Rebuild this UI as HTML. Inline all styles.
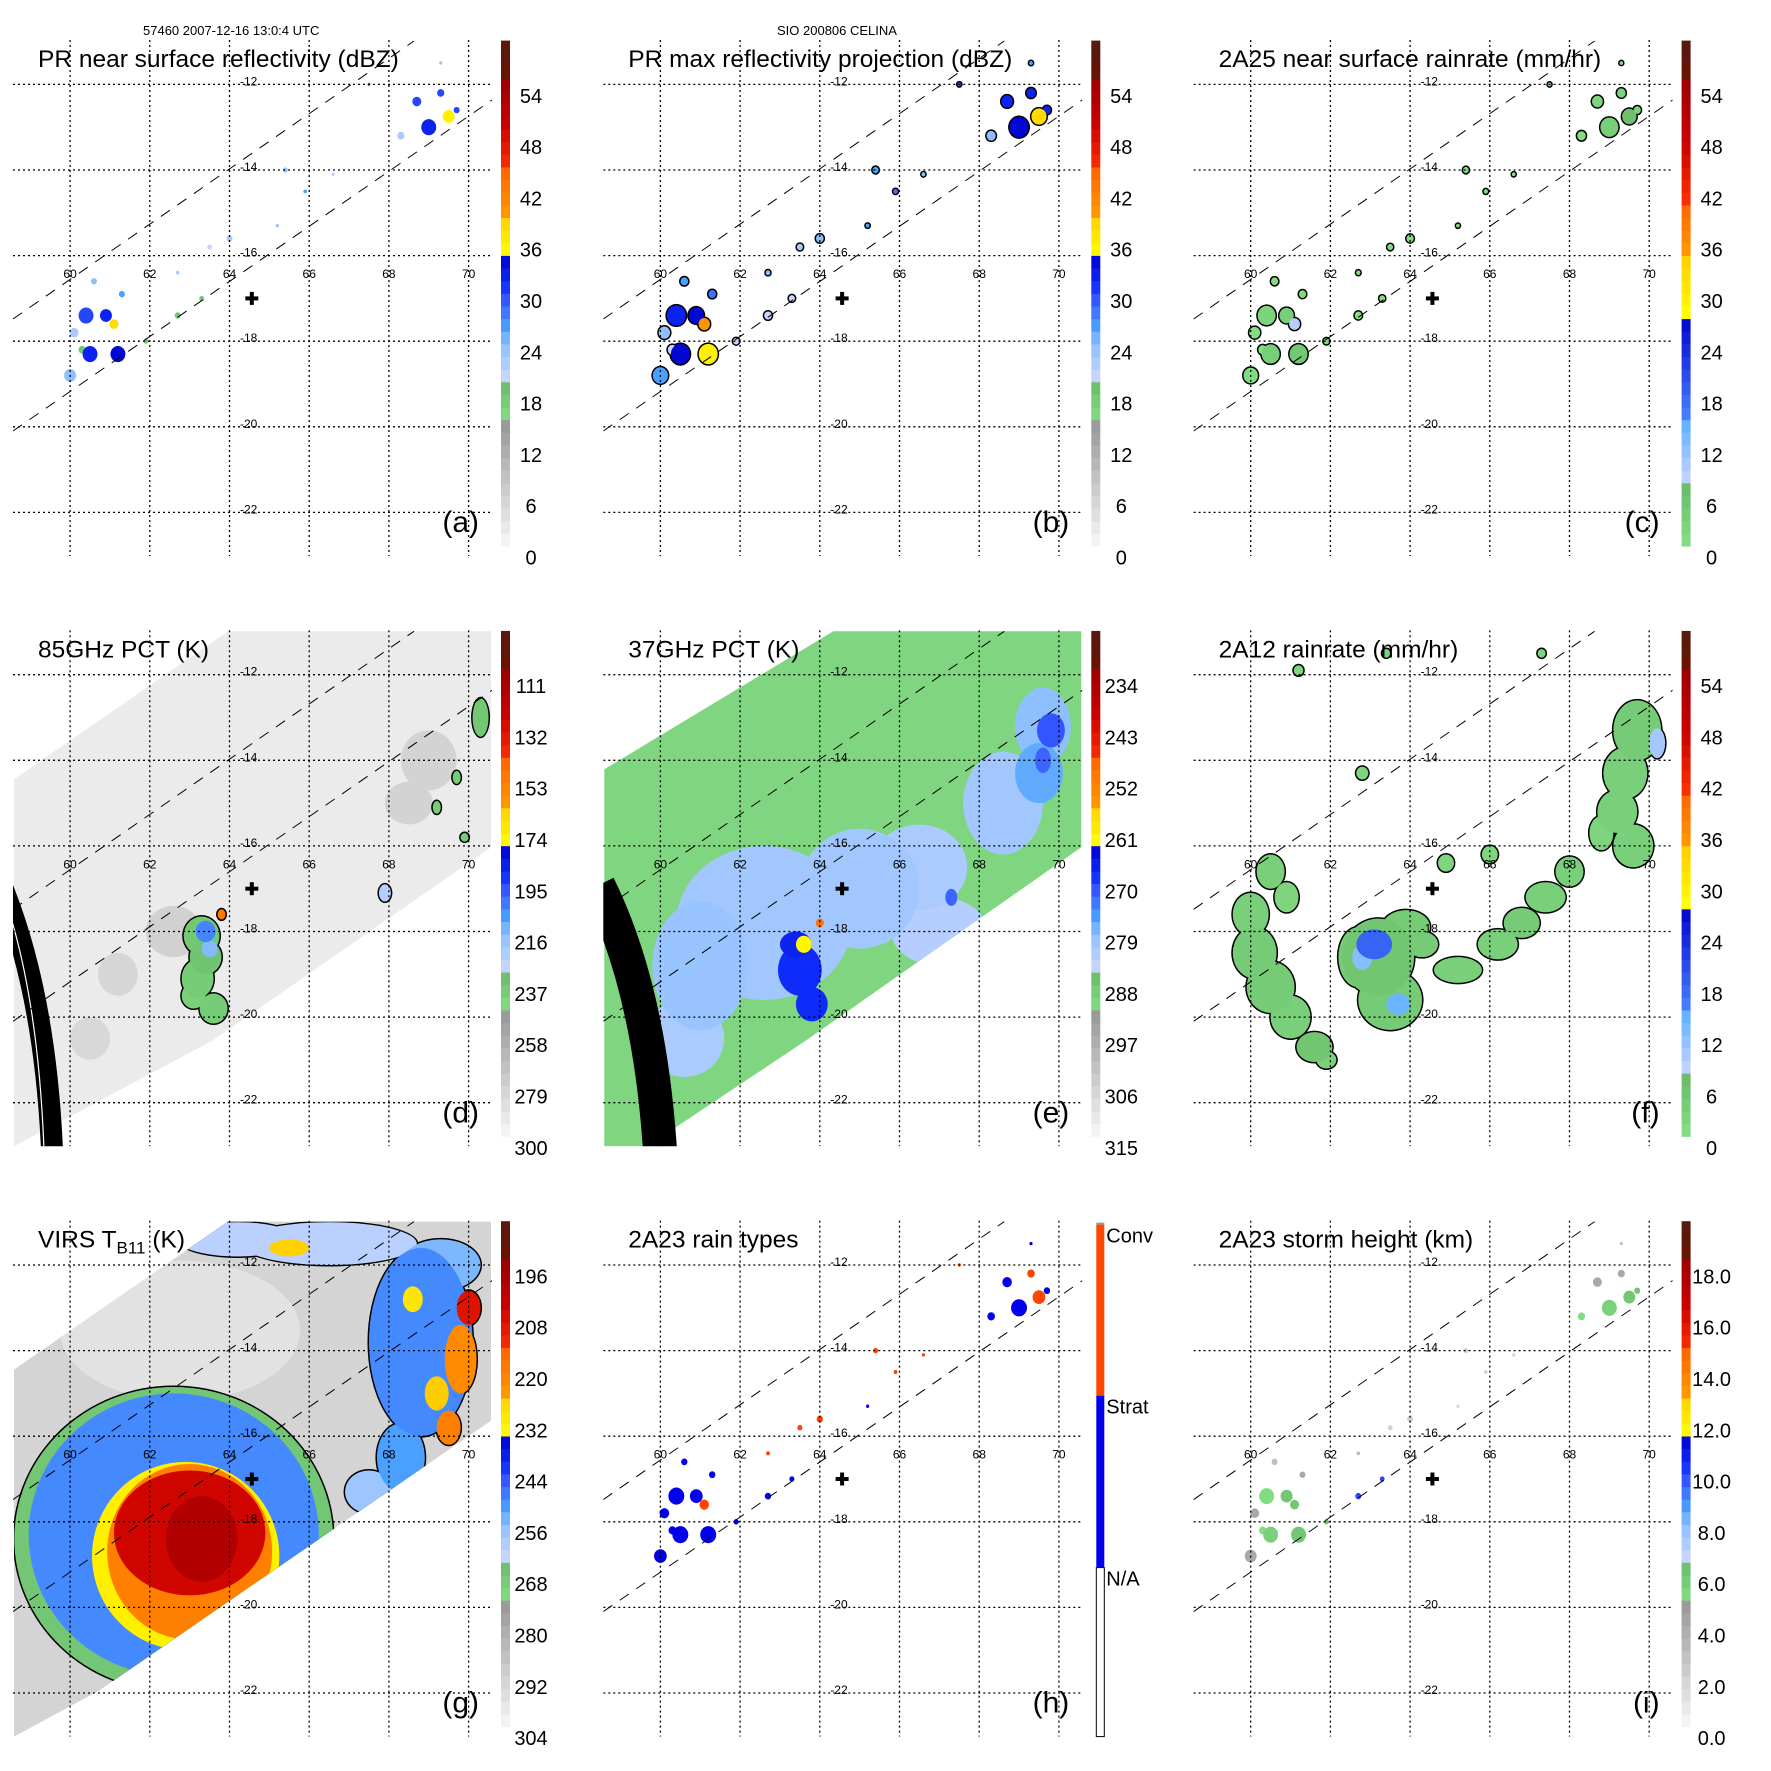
<!DOCTYPE html>
<html><head><meta charset="utf-8"><style>
html,body{margin:0;padding:0;background:#fff;}
svg{display:block;font-family:"Liberation Sans",sans-serif;}
</style></head><body>
<svg id="fig" width="1771" height="1771" viewBox="0 0 1771 1771" xmlns="http://www.w3.org/2000/svg">
<rect width="1771" height="1771" fill="#fff"/>
<text x="143" y="35" font-size="13">57460 2007-12-16 13:0:4 UTC</text>
<text x="777" y="35" font-size="13">SIO 200806 CELINA</text>
</svg>
<script>
// ---- data ----
const gridLons=[60,62,64,66,68,70];
const gridLats=[-12,-14,-16,-18,-20,-22];
const stormLon=64.56, stormLat=-17.0;
// PR cells
const prLon=[60.4,60.1,60.9,60.5,61.2,61.1,60.0,60.3,61.3,60.6,61.9,62.7,63.3,62.7,63.5,64.0,65.4,65.9,66.6,65.2,69.0,69.5,68.7,69.3,69.7,68.3,69.3,67.5];
const prLat=[-17.4,-17.8,-17.4,-18.3,-18.3,-17.6,-18.8,-18.2,-16.9,-16.6,-18.0,-17.4,-17.0,-16.4,-15.8,-15.6,-14.0,-14.5,-14.1,-15.3,-13.0,-12.75,-12.4,-12.2,-12.6,-13.2,-11.5,-12.0];
const prSize=[0.25,0.15,0.2,0.25,0.25,0.15,0.2,0.12,0.1,0.1,0.08,0.1,0.08,0.06,0.08,0.1,0.08,0.06,0.05,0.05,0.25,0.2,0.15,0.12,0.1,0.12,0.05,0.05];
const prDbz=[30,22,32,32,34,38,24,18,26,24,18,18,18,22,20,22,24,26,22,24,32,36,30,30,30,22,24,28];
const prConv=[0,0,0,0,0,1,0,0,0,0,0,0,0,1,1,1,1,1,1,0,0,1,0,1,0,0,0,1];
const prHeight=[5,4,6,5.5,6,6,4,5,4,3,6,10,10,3,2,2,2,2,2,2,5.5,6,4,4,6,5,3,3];
// 85 GHz PCT
const dLon=[62.6,69.0,61.2,60.5,68.5,63.3,63.4,63.2,63.6,63.1,63.4,63.5,63.8,70.3,69.7,69.2,67.9,69.9];
const dLat=[-18.0,-14.0,-19.0,-20.5,-15.0,-18.1,-18.6,-19.1,-19.8,-19.5,-18.0,-18.4,-17.6,-13.0,-14.4,-15.1,-17.1,-15.8];
const dRx=[0.7,0.7,0.5,0.5,0.6,0.45,0.4,0.4,0.35,0.3,0.25,0.2,0.1,0.2,0.1,0.1,0.15,0.1];
const dRy=[0.6,0.7,0.5,0.5,0.5,0.45,0.4,0.45,0.35,0.3,0.25,0.2,0.12,0.45,0.15,0.15,0.2,0.1];
const dVal=[279,280,282,283,280,238,236,240,240,242,205,215,150,238,240,240,225,240];
// 37 GHz PCT
const eLon=[62.6,65.0,66.5,61.0,68.6,69.6,69.5,60.6,67.0,63.5,63.8,63.4,69.8,67.3,69.6,63.6,64.0];
const eLat=[-17.8,-17.0,-16.5,-18.8,-15.0,-13.2,-14.3,-20.5,-18.0,-18.9,-19.7,-18.3,-13.3,-17.2,-14.0,-18.3,-17.8];
const eRx=[2.2,1.5,1.2,1.2,1.0,0.7,0.6,1.0,1.2,0.55,0.4,0.4,0.35,0.15,0.2,0.2,0.1];
const eRy=[1.8,1.4,1.0,1.5,1.2,0.9,0.7,0.9,0.8,0.6,0.4,0.3,0.4,0.2,0.3,0.2,0.1];
const eVal=[281,281,282,280,281,279,277,282,283,268,268,267,271,272,272,262,250];
// 2A12 rain
const fLon=[60.5,60.0,60.1,60.5,61.0,61.6,61.9,60.9,63.2,62.7,63.5,63.9,63.1,64.3,65.2,66.2,66.8,67.4,68.0,69.7,69.4,69.2,69.6,68.8,70.2,62.8,61.2,63.4,67.3,64.9,66.0,63.7,62.8];
const fLat=[-16.6,-17.6,-18.5,-19.3,-20.0,-20.7,-21.0,-17.2,-18.6,-18.6,-19.6,-17.9,-18.3,-18.3,-18.9,-18.3,-17.8,-17.2,-16.6,-13.3,-14.3,-15.2,-16.0,-15.7,-13.6,-14.3,-11.9,-11.5,-11.5,-16.4,-16.2,-19.7,-18.6];
const fRx=[0.35,0.45,0.55,0.6,0.5,0.45,0.25,0.3,0.9,0.5,0.8,0.6,0.45,0.4,0.6,0.5,0.45,0.5,0.35,0.6,0.55,0.5,0.5,0.3,0.2,0.15,0.12,0.1,0.1,0.2,0.2,0.3,0.25];
const fRy=[0.4,0.5,0.6,0.6,0.5,0.35,0.2,0.35,0.9,0.7,0.7,0.4,0.35,0.3,0.3,0.35,0.35,0.35,0.35,0.7,0.6,0.5,0.5,0.4,0.35,0.15,0.12,0.1,0.1,0.2,0.2,0.25,0.3];
const fVal=[3,3,4,4,3,5,3,2,5,4,4,4,18,4,3,3,4,3,3,4,3,3,3,2,10,2,2,2,2,2,2,14,12];
// VIRS TB11
const gLon=[62.6,62.6,62.9,63.0,63.0,63.3,68.8,69.3,66.5,64.2,69.8,70.0,69.5,68.3,67.5,65.5,69.2,68.6];
const gLat=[-18.4,-18.3,-18.8,-18.7,-18.26,-18.4,-13.8,-12.0,-11.5,-11.4,-14.2,-13.0,-15.8,-16.5,-17.3,-11.6,-15.0,-12.8];
const gRx=[4.0,3.64,2.35,2.07,1.9,0.9,1.3,1.0,2.2,1.5,0.4,0.3,0.3,0.6,0.6,0.5,0.3,0.25];
const gRy=[3.55,3.3,2.2,2.05,1.46,1.0,2.2,0.6,0.5,0.4,0.8,0.4,0.4,0.8,0.5,0.2,0.4,0.3];
const gVal=[268,250,232,220,205,198,250,255,262,262,222,208,220,252,258,226,225,230];
// colorbar tick labels
const ticksA=['0','6','12','18','24','30','36','42','48','54'];
const ticksD=['300','279','258','237','216','195','174','153','132','111'];
const ticksE=['315','306','297','288','279','270','261','252','243','234'];
const ticksG=['304','292','280','268','256','244','232','220','208','196'];
const ticksI=['0.0','2.0','4.0','6.0','8.0','10.0','12.0','14.0','16.0','18.0'];
const ticksH=['Conv','Strat','N/A'];

// ---- helpers ----
const NS='http://www.w3.org/2000/svg';
const svg=document.getElementById('fig');
const X=lon=>70.1+(lon-60)*39.85;
const Y=lat=>84.4+(-12-lat)*42.8;
function mk(tag,attrs,parent){const e=document.createElementNS(NS,tag);for(const k in attrs)e.setAttribute(k,attrs[k]);parent.appendChild(e);return e;}
function hx(c){return [parseInt(c.substr(1,2),16),parseInt(c.substr(3,2),16),parseInt(c.substr(5,2),16)];}
function lerpStops(stops,v){
  if(v<=stops[0][0])return stops[0][1];
  for(let i=0;i<stops.length-1;i++){const a=stops[i],b=stops[i+1];
    if(v>=a[0]&&v<=b[0]){if(b[0]===a[0])return b[1];const t=(v-a[0])/(b[0]-a[0]);const A=hx(a[1]),B=hx(b[1]);
      return 'rgb('+A.map((x,j)=>Math.round(x+(B[j]-x)*t)).join(',')+')';}}
  return stops[stops.length-1][1];
}
const stopsA=[[0,'#f8f8f8'],[14.5,'#999999'],[14.5,'#85e085'],[19.5,'#6bbb6b'],[19.5,'#d0d8ff'],[24,'#8ec0ff'],[26,'#4aa0ff'],[29,'#3a5cff'],[31,'#1030ff'],[34.5,'#0000cc'],[34.5,'#ffff00'],[39.5,'#ffcc00'],[39.5,'#ff9900'],[44.5,'#ff6600'],[44.5,'#ff3300'],[50,'#cc0000'],[55,'#a00000'],[55,'#701000'],[60,'#551a12']];
const stopsC=[[0,'#85e085'],[7,'#6bbb6b'],[7,'#d0d8ff'],[15.2,'#5aaeff'],[15.2,'#4a80ff'],[27.4,'#0000cc'],[27.4,'#ffff00'],[34.6,'#ffcc00'],[34.6,'#ff9900'],[40.5,'#ff6600'],[40.5,'#ff3300'],[48,'#cc0000'],[55,'#a00000'],[55,'#701000'],[60,'#551a12']];
const cA=u=>lerpStops(stopsA,u), cC=u=>lerpStops(stopsC,u);

const titles=['PR near surface reflectivity (dBZ)','PR max reflectivity projection (dBZ)','2A25 near surface rainrate (mm/hr)','85GHz PCT (K)','37GHz PCT (K)','2A12 rainrate (mm/hr)','VIRS T','2A23 rain types','2A23 storm height (km)'];
const letters=['a','b','c','d','e','f','g','h','i'];
const STEP=590.3;

function panel(idx){
  const col=idx%3,row=Math.floor(idx/3);
  const g=mk('g',{transform:`translate(${col*STEP},${row*STEP})`},svg);
  
  
  const cid='clip'+idx;
  const cp=mk('clipPath',{id:cid},g);mk('rect',{x:13,y:40,width:479,height:516},cp);
  const plot=mk('g',{'clip-path':`url(#${cid})`},g);
  
  
  return {g,plot};
}
function blobs(parent,lons,lats,rxs,rys,vals,colorFn,outline){
  const idx=lons.map((_,i)=>i);
  idx.sort((a,b)=>vals[a]-vals[b]);
  if(outline){idx.forEach(i=>{const e=mk('ellipse',{cx:X(lons[i]),cy:Y(lats[i]),rx:rxs[i]*39.85+1.5,ry:rys[i]*42.8+1.5,fill:'#000'},parent);
    
    });}
  idx.forEach(i=>{const e=mk('ellipse',{cx:X(lons[i]),cy:Y(lats[i]),rx:rxs[i]*39.85,ry:rys[i]*42.8,fill:colorFn(vals[i])},parent);
    
    });
}
function overlay(g,plot,idx){
  gridLats.forEach(lat=>{const l=mk('line',{x1:13,x2:492,y1:Y(lat),y2:Y(lat),stroke:'#000','stroke-width':1.3,'stroke-dasharray':'2,3'},plot);
    
    });
  gridLons.forEach(lon=>{const l=mk('line',{x1:X(lon),x2:X(lon),y1:40,y2:556,stroke:'#000','stroke-width':1.3,'stroke-dasharray':'2,3'},plot);
    
    });
  const s1=mk('line',{x1:13,y1:319,x2:414,y2:41,stroke:'#000','stroke-width':1,'stroke-dasharray':'11,9'},plot);
  
  
  const s2=mk('line',{x1:13,y1:431,x2:492,y2:100,stroke:'#000','stroke-width':1,'stroke-dasharray':'11,9'},plot);
  
  
  gridLats.forEach(lat=>{const t=mk('text',{x:240,y:Y(lat)+1,'font-size':12},g);t.textContent=String(lat);
    
    });
  gridLons.forEach(lon=>{const t=mk('text',{x:X(lon),y:278,'font-size':12,'text-anchor':'middle'},g);t.textContent=String(lon);
    
    });
  const c1=mk('rect',{x:X(stormLon)-6.5,y:Y(stormLat)-2,width:13,height:4,fill:'#000'},g);
  
  
  mk('rect',{x:X(stormLon)-2,y:Y(stormLat)-6.5,width:4,height:13,fill:'#000'},g);
  const t=mk('text',{x:38,y:67,'font-size':24.5},g);
  
  
  if(idx===6){t.textContent='VIRS T';const s=mk('tspan',{'font-size':17,dy:6},t);s.textContent='B11';const s2=mk('tspan',{dy:-6},t);s2.textContent=' (K)';}
  else t.textContent=titles[idx];
  const lt=mk('text',{x:479,y:532,'font-size':30,'text-anchor':'end'},g);lt.textContent='('+letters[idx]+')';
  
  
}
function colorbar(g,fn,ticks){
  const cb=mk('g',{},g);
  
  
  const y0=546,y1=40.6,n=40,h=(y0-y1)/n;
  for(let i=0;i<n;i++){mk('rect',{x:501,y:y0-(i+1)*h,width:9,height:h+0.5,fill:fn((i+0.5)*60/n)},cb);}
  ticks.forEach((s,i)=>{const t=mk('text',{x:531,y:557-51.3*i+7.5,'font-size':20,'text-anchor':'middle'},cb);t.textContent=s;
    
    });
}

// ---- panel a ----
{const {g,plot}=panel(0);
 blobs(plot,prLon,prLat,prSize.map(s=>s*0.75),prSize.map(s=>s*0.75),prDbz,cA,false);
 overlay(g,plot,0);colorbar(g,cA,ticksA);}
// ---- panel b ----
{const {g,plot}=panel(1);
 blobs(plot,prLon,prLat,prSize.map(s=>s*0.95),prSize.map(s=>s*0.95),prDbz.map(v=>v+2),cA,true);
 overlay(g,plot,1);colorbar(g,cA,ticksA);}
// ---- panel c ----
{const {g,plot}=panel(2);
 const rr=prDbz.map(v=>Math.pow(Math.pow(10,v/10)/300,1/1.4));
 blobs(plot,prLon,prLat,prSize.map(s=>s*0.9),prSize.map(s=>s*0.9),rr,cC,true);
 overlay(g,plot,2);colorbar(g,cC,ticksA);}
// ---- panel d ----
{const {g,plot}=panel(3);
 const sw=mk('polygon',{points:'14,189 228,41 491,41 491,257 213,450 14,556',fill:'#ebebeb'},plot);
 
 
 const u=v=>(300-v)/210*60;
 const gr=dVal.map(v=>v>=250);
 blobs(plot,dLon.filter((_,i)=>gr[i]),dLat.filter((_,i)=>gr[i]),dRx.filter((_,i)=>gr[i]),dRy.filter((_,i)=>gr[i]),dVal.filter((_,i)=>gr[i]).map(u),cA,false);
 const ol=dVal.map(v=>v<250);
 blobs(plot,dLon.filter((_,i)=>ol[i]),dLat.filter((_,i)=>ol[i]),dRx.filter((_,i)=>ol[i]),dRy.filter((_,i)=>ol[i]),dVal.filter((_,i)=>ol[i]).map(u),cA,true);
 mk('path',{d:'M 0 292 Q 45 400 52 560',fill:'none',stroke:'#000','stroke-width':22},plot);
 mk('path',{d:'M 2 300 Q 38 400 44 560',fill:'none',stroke:'#fff','stroke-width':1.2},plot);
 overlay(g,plot,3);colorbar(g,cA,ticksD);}
// ---- panel e ----
{const {g,plot}=panel(4);
 const sw=mk('polygon',{points:'14,179 243,41 491,41 491,257 216,450 57,556 14,556',fill:'#80d680'},plot);
 
 
 const cpp=mk('clipPath',{id:'swE'},g);mk('polygon',{points:'14,179 243,41 491,41 491,257 216,450 57,556 14,556'},cpp);
 const inner=mk('g',{'clip-path':'url(#swE)'},plot);
 blobs(inner,eLon,eLat,eRx,eRy,eVal.map(v=>(315-v)/90*60),cA,false);
 mk('path',{d:'M 8 295 Q 60 400 70 565',fill:'none',stroke:'#000','stroke-width':34},plot);
 overlay(g,plot,4);colorbar(g,cA,ticksE);}
// ---- panel f ----
{const {g,plot}=panel(5);
 blobs(plot,fLon,fLat,fRx,fRy,fVal,cC,true);
 overlay(g,plot,5);colorbar(g,cC,ticksA);}
// ---- panel g ----
{const {g,plot}=panel(6);
 const pts='14,189 228,41 491,41 491,240 99,510 14,556';
 const sw=mk('polygon',{points:pts,fill:'#d4d4d4'},plot);
 
 
 const cpp=mk('clipPath',{id:'swG'},g);mk('polygon',{points:pts},cpp);
 const inner=mk('g',{'clip-path':'url(#swG)'},plot);
 mk('ellipse',{cx:180,cy:150,rx:120,ry:70,fill:'#e2e2e2'},inner);
 blobs(inner,gLon,gLat,gRx,gRy,gVal.map(v=>(304-v)/120*60),cA,true);
 overlay(g,plot,6);colorbar(g,cA,ticksG);}
// ---- panel h ----
{const {g,plot}=panel(7);
 blobs(plot,prLon,prLat,prSize.map(s=>s*0.8),prSize.map(s=>s*0.8),prConv,c=>c?'#ff4500':'#0000ee',false);
 overlay(g,plot,7);
 const cb=mk('g',{},g);
 
 
 mk('rect',{x:506,y:387,width:8,height:169,fill:'#fff',stroke:'#000','stroke-width':1},cb);
 mk('rect',{x:506,y:215,width:8,height:172,fill:'#0000ee'},cb);
 mk('rect',{x:506,y:44,width:8,height:171,fill:'#ff4500'},cb);
 mk('rect',{x:506,y:42,width:8,height:2,fill:'#999'},cb);
 const ys=[44,215,387];
 ticksH.forEach((s,i)=>{const t=mk('text',{x:516,y:ys[i]+18,'font-size':20},cb);t.textContent=s;
   
   });}
// ---- panel i ----
{const {g,plot}=panel(8);
 blobs(plot,prLon,prLat,prSize.map(s=>s*0.75),prSize.map(s=>s*0.75),prHeight.map(h=>h*3),cA,false);
 overlay(g,plot,8);colorbar(g,cA,ticksI);}
</script>
</body></html>
